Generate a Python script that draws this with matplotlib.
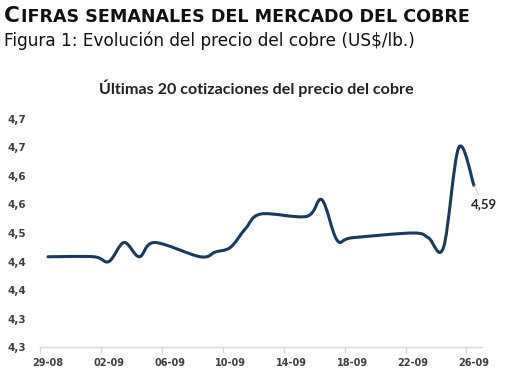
import numpy as np
import pandas as pd
import matplotlib
matplotlib.use("Agg")
import matplotlib.pyplot as plt
import matplotlib.dates as mdates
from matplotlib.path import Path
from matplotlib.patches import PathPatch

# data
dates = ["2025-08-29", "2025-09-01", "2025-09-02", "2025-09-03", "2025-09-04",
         "2025-09-05", "2025-09-08", "2025-09-09", "2025-09-10", "2025-09-11",
         "2025-09-12", "2025-09-15", "2025-09-16", "2025-09-17", "2025-09-18",
         "2025-09-22", "2025-09-23", "2025-09-24", "2025-09-25", "2025-09-26"]
prices = [4.44, 4.44, 4.43, 4.47, 4.44, 4.47, 4.44, 4.45, 4.46, 4.50,
          4.53, 4.525, 4.56, 4.475, 4.48, 4.49, 4.48, 4.46, 4.67, 4.59]
ytick_vals = [4.25, 4.31, 4.37, 4.43, 4.49, 4.55, 4.61, 4.67, 4.73]
ytick_labels = ["4,3", "4,3", "4,4", "4,4", "4,5", "4,6", "4,6", "4,7", "4,7"]
last_label = "4,59"

navy = "#1b3a5c"
txt = "#404040"

x = mdates.date2num(pd.to_datetime(dates))
y = np.array(prices)

fig = plt.figure(figsize=(5.10, 3.82), dpi=100)
ax = fig.add_axes([0.0792, 0.0916, 0.8651, 0.5969])

# smoothed line like Excel (Catmull-Rom -> cubic Bezier)
pts = np.column_stack([x, y])
verts = [pts[0]]
codes = [Path.MOVETO]
n = len(pts)
for i in range(n - 1):
    p0 = pts[max(i - 1, 0)]
    p1 = pts[i]
    p2 = pts[i + 1]
    p3 = pts[min(i + 2, n - 1)]
    c1 = p1 + (p2 - p0) / 6.0
    c2 = p2 - (p3 - p1) / 6.0
    verts += [c1, c2, p2]
    codes += [Path.CURVE4] * 3
ax.add_patch(PathPatch(Path(verts, codes), fill=False, edgecolor=navy,
                       lw=2.2, capstyle="round", joinstyle="round"))

ax.set_xlim(x[0] - 0.5, x[-1] + 0.5)
ax.set_ylim(4.25, 4.73)

# x axis: labels on dates, tick marks half a day before
lab_dates = mdates.date2num(pd.date_range("2025-08-29", "2025-09-26", freq="4D"))
ax.set_xticks(lab_dates)
ax.xaxis.set_major_formatter(mdates.DateFormatter("%d-%m"))
ax.set_xticks(lab_dates - 0.5, minor=True)
ax.tick_params(axis="x", which="major", length=0, pad=8, labelsize=7, labelcolor=txt)
ax.tick_params(axis="x", which="minor", length=4, color="#d9d9d9", width=1)
for lab in ax.get_xticklabels():
    lab.set_fontweight("bold")

ax.set_yticks(ytick_vals)
ax.set_yticklabels(ytick_labels, fontsize=7.5, fontweight="bold", color=txt)
ax.tick_params(axis="y", length=0, pad=10)

for s in ["top", "right", "left"]:
    ax.spines[s].set_visible(False)
ax.spines["bottom"].set_color("#d9d9d9")
ax.spines["bottom"].set_linewidth(1)

ax.annotate(last_label, xy=(x[-1], y[-1]), xytext=(x[-1] + 0.65, y[-1] - 0.04),
            fontsize=9.5, fontweight="bold", color="#222222", ha="center", va="center",
            family="Lato",
            arrowprops=dict(arrowstyle="-", color="#c8c8c8", lw=0.6, shrinkA=1, shrinkB=9))

fig.text(0.502, 1 - 88 / 382, "Últimas 20 cotizaciones del precio del cobre",
         ha="center", va="center", fontsize=11.6, fontweight="bold", family="Lato",
         color="#222222")

# header with small caps
t1 = fig.text(4 / 510, 1 - 22 / 382, "C", fontsize=15.5, fontweight="bold",
              va="baseline", ha="left", color="#111111")
ax.annotate("IFRAS SEMANALES DEL MERCADO DEL COBRE", xy=(1, 0), xycoords=t1,
            xytext=(0.5, 0), textcoords="offset points",
            fontsize=12.6, fontweight="bold", color="#111111", va="bottom", ha="left",
            annotation_clip=False)
fig.text(4 / 510, 1 - 46 / 382, "Figura 1: Evolución del precio del cobre (US$/lb.)",
         fontsize=12.2, va="baseline", ha="left", color="#111111")

fig.savefig("out.png", dpi=100)
